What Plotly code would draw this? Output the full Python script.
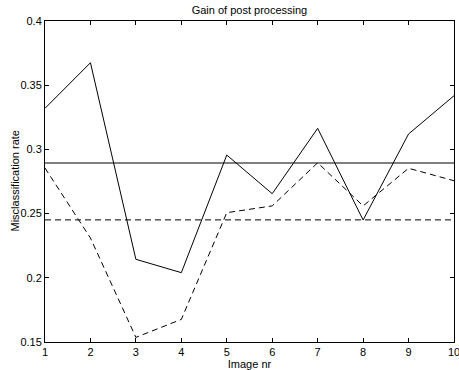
import plotly.graph_objects as go

images = [1, 2, 3, 4, 5, 6, 7, 8, 9, 10]
before_pp = [0.332, 0.3675, 0.2144, 0.204, 0.2956, 0.2655, 0.3164, 0.245, 0.312, 0.3418]
after_pp = [0.2855, 0.231, 0.1536, 0.1676, 0.2507, 0.256, 0.2896, 0.256, 0.2853, 0.2756]
mean_before = 0.2894
mean_after = 0.2451
x_range = [1, 10]
y_ticks = [0.15, 0.2, 0.25, 0.3, 0.35, 0.4]
y_tick_labels = ["0.15", "0.2", "0.25", "0.3", "0.35", "0.4"]

FONT = "Liberation Sans, Arial, Helvetica, sans-serif"

fig = go.Figure()
fig.add_trace(go.Scatter(x=images, y=before_pp, mode="lines",
                         line=dict(color="black", width=1)))
fig.add_trace(go.Scatter(x=images, y=after_pp, mode="lines",
                         line=dict(color="black", width=1, dash="6px,4px")))
fig.add_trace(go.Scatter(x=x_range, y=[mean_before, mean_before], mode="lines",
                         line=dict(color="black", width=1)))
fig.add_trace(go.Scatter(x=x_range, y=[mean_after, mean_after], mode="lines",
                         line=dict(color="black", width=1, dash="6px,4px")))

fig.add_annotation(text="Misclassification rate", textangle=-90,
                   xref="paper", yref="paper", x=-31 / 409, y=0.5,
                   xanchor="center", yanchor="middle", showarrow=False,
                   font=dict(family=FONT, size=11, color="black"))

fig.update_layout(
    width=459, height=370,
    margin=dict(l=45, r=5, t=21, b=28, autoexpand=False),
    paper_bgcolor="white", plot_bgcolor="white",
    showlegend=False,
    font=dict(family=FONT, size=11, color="black"),
    title=dict(text="Gain of post processing", x=0.5435, xanchor="center",
               y=1 - 10 / 370, yanchor="middle", yref="container",
               font=dict(family=FONT, size=11, color="black")),
    xaxis=dict(range=x_range, tickmode="array", tickvals=images,
               ticktext=[str(i) for i in images], ticklabeloverflow="allow",
               ticks="inside", ticklen=4, tickcolor="black", tickwidth=1,
               showline=True, linecolor="black", linewidth=1, mirror="ticks",
               showgrid=False, zeroline=False, automargin=False,
               title=dict(text="Image nr", standoff=2,
                          font=dict(family=FONT, size=11))),
    yaxis=dict(range=[0.15, 0.4], tickmode="array", tickvals=y_ticks,
               ticktext=y_tick_labels, ticklabeloverflow="allow",
               ticks="inside", ticklen=4, tickcolor="black", tickwidth=1,
               showline=True, linecolor="black", linewidth=1, mirror="ticks",
               showgrid=False, zeroline=False, automargin=False),
)

fig.write_html("out.html",
               config={"displayModeBar": False, "staticPlot": True},
               post_script="document.body.style.margin='0';document.body.style.overflow='hidden';")
